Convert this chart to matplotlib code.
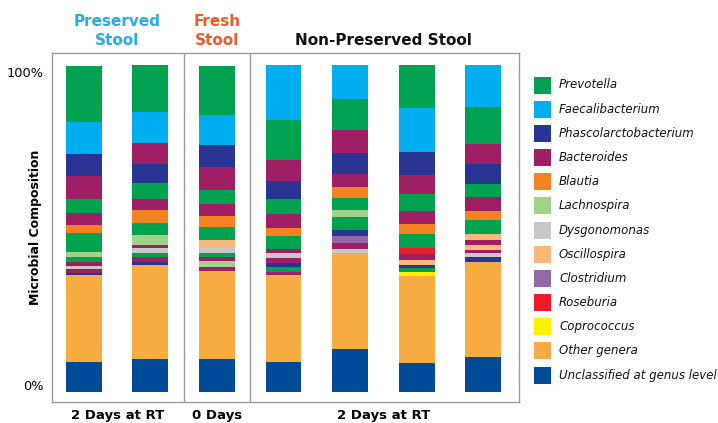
import matplotlib
matplotlib.use("Agg")
import matplotlib.pyplot as plt
from matplotlib.patches import Rectangle

plt.rcParams['font.family'] = ['DejaVu Sans']

# legend order (top to bottom) and colours
genera = ["Prevotella", "Faecalibacterium", "Phascolarctobacterium", "Bacteroides",
          "Blautia", "Lachnospira", "Dysgonomonas", "Oscillospira", "Clostridium",
          "Roseburia", "Coprococcus", "Other genera", "Unclassified at genus level"]
colors = ["#00A14F", "#00AEEF", "#283593", "#9E1F63",
          "#F58220", "#A2D18A", "#C8C8C8", "#FBB87A", "#9269A8",
          "#ED1C24", "#FFF200", "#F7AC41", "#004A98"]
col = dict(zip(genera, colors))

# segments of each bar, bottom to top, in percent
bar1 = [("Unclassified at genus level", 9.2), ("Other genera", 26.5), ("Phascolarctobacterium", 0.6),
        ("Bacteroides", 1.2), ("Dysgonomonas", 0.9), ("Bacteroides", 1.2), ("Prevotella", 1.8),
        ("Lachnospira", 1.5), ("Prevotella", 5.8), ("Blautia", 2.4), ("Bacteroides", 3.7),
        ("Prevotella", 4.3), ("Bacteroides", 7.0), ("Phascolarctobacterium", 6.7),
        ("Faecalibacterium", 9.8), ("Prevotella", 17.1)]
bar2 = [("Unclassified at genus level", 10.0), ("Other genera", 28.8), ("Phascolarctobacterium", 0.9),
        ("Bacteroides", 1.5), ("Prevotella", 1.2), ("Dysgonomonas", 1.5), ("Bacteroides", 0.9),
        ("Lachnospira", 3.1), ("Prevotella", 3.7), ("Blautia", 4.0), ("Bacteroides", 3.4),
        ("Prevotella", 4.9), ("Phascolarctobacterium", 5.8), ("Bacteroides", 6.4),
        ("Faecalibacterium", 9.5), ("Prevotella", 14.4)]
bar3 = [("Unclassified at genus level", 10.0), ("Other genera", 26.9), ("Bacteroides", 1.2),
        ("Lachnospira", 2.1), ("Bacteroides", 1.2), ("Prevotella", 1.2), ("Dysgonomonas", 1.5),
        ("Oscillospira", 2.4), ("Prevotella", 4.0), ("Blautia", 3.4), ("Bacteroides", 3.7),
        ("Prevotella", 4.3), ("Bacteroides", 7.0), ("Phascolarctobacterium", 6.7),
        ("Faecalibacterium", 9.2), ("Prevotella", 15.0)]
bar4 = [("Unclassified at genus level", 9.0), ("Other genera", 26.9), ("Bacteroides", 0.9),
        ("Prevotella", 1.5), ("Phascolarctobacterium", 1.2), ("Bacteroides", 1.5), ("Dysgonomonas", 1.5),
        ("Bacteroides", 1.2), ("Prevotella", 4.0), ("Blautia", 2.5), ("Bacteroides", 4.3),
        ("Prevotella", 4.6), ("Phascolarctobacterium", 5.5), ("Bacteroides", 6.4),
        ("Prevotella", 12.3), ("Faecalibacterium", 16.6)]
bar5 = [("Unclassified at genus level", 13.1), ("Other genera", 29.4), ("Dysgonomonas", 1.2),
        ("Bacteroides", 1.8), ("Clostridium", 2.1), ("Phascolarctobacterium", 1.8), ("Prevotella", 4.0),
        ("Lachnospira", 2.4), ("Prevotella", 3.4), ("Blautia", 3.4), ("Bacteroides", 4.0),
        ("Phascolarctobacterium", 6.4), ("Bacteroides", 7.0), ("Prevotella", 9.5),
        ("Faecalibacterium", 10.4)]
bar6 = [("Unclassified at genus level", 8.8), ("Other genera", 26.6), ("Coprococcus", 1.2),
        ("Prevotella", 1.2), ("Phascolarctobacterium", 0.9), ("Oscillospira", 1.8), ("Bacteroides", 1.8),
        ("Roseburia", 1.8), ("Prevotella", 4.3), ("Blautia", 3.1), ("Bacteroides", 3.7),
        ("Prevotella", 5.2), ("Bacteroides", 6.1), ("Phascolarctobacterium", 7.0),
        ("Faecalibacterium", 13.5), ("Prevotella", 12.9)]
bar7 = [("Unclassified at genus level", 10.6), ("Other genera", 29.1), ("Phascolarctobacterium", 1.5),
        ("Dysgonomonas", 1.2), ("Bacteroides", 0.9), ("Oscillospira", 1.5), ("Bacteroides", 1.8),
        ("Oscillospira", 1.8), ("Prevotella", 4.3), ("Blautia", 2.8), ("Bacteroides", 4.0),
        ("Prevotella", 4.0), ("Phascolarctobacterium", 6.1), ("Bacteroides", 6.4),
        ("Prevotella", 11.3), ("Faecalibacterium", 12.6)]
bars = [bar1, bar2, bar3, bar4, bar5, bar6, bar7]

group_titles = ["Preserved\nStool", "Fresh\nStool", "Non-Preserved Stool"]
group_colors = ["#29ABE2", "#F15A24", "#111111"]
group_labels = ["2 Days at RT", "0 Days", "2 Days at RT"]
group_centers = [0.5, 2, 4.5]

W, H = 718, 423
fig = plt.figure(figsize=(W / 100, H / 100), dpi=100)
ax = fig.add_axes([52/W, 21/H, 467/W, 349/H])

for i, segs in enumerate(bars):
    bottom = 0
    for g, v in segs:
        ax.bar(i, v, bottom=bottom, width=0.54, color=col[g], linewidth=0)
        bottom += v

ax.set_xlim(-0.48, 6.54)
ax.set_ylim(-3.1, 103.7)
for s in ax.spines.values():
    s.set_color("#9a9a9a")
    s.set_linewidth(1)
ax.axvline(1.5, color="#9a9a9a", lw=1)
ax.axvline(2.5, color="#9a9a9a", lw=1)

ax.set_xticks([])
ax.set_yticks([2, 98])
ax.set_yticklabels(["0%", "100%"], fontsize=9.3)
ax.tick_params(axis="y", length=0, pad=6)
ax.set_ylabel("Microbial Composition", fontsize=9, fontweight="bold")
ax.yaxis.set_label_coords(-0.022, 0.5)

trans = ax.get_xaxis_transform()
for x, t, c, lab in zip(group_centers, group_titles, group_colors, group_labels):
    ax.text(x, 1.015, t, transform=trans, ha="center", va="bottom", color=c,
            fontsize=11, fontweight="bold", linespacing=1.3)
    ax.text(x, -0.02, lab, transform=trans, ha="center", va="top",
            fontsize=9.5, fontweight="bold")

# legend: colour squares with italic genus names
for k, (g, c) in enumerate(zip(genera, colors)):
    yc = 85 + 24.17 * k
    fig.add_artist(Rectangle((534/W, 1 - (yc + 8.5)/H), 17/W, 17/H,
                             transform=fig.transFigure, facecolor=c, edgecolor="none"))
    fig.text(559/W, 1 - yc/H, g, ha="left", va="center", fontsize=8.5,
             fontstyle="italic", color="#111111")

fig.savefig("out.png", dpi=100)
